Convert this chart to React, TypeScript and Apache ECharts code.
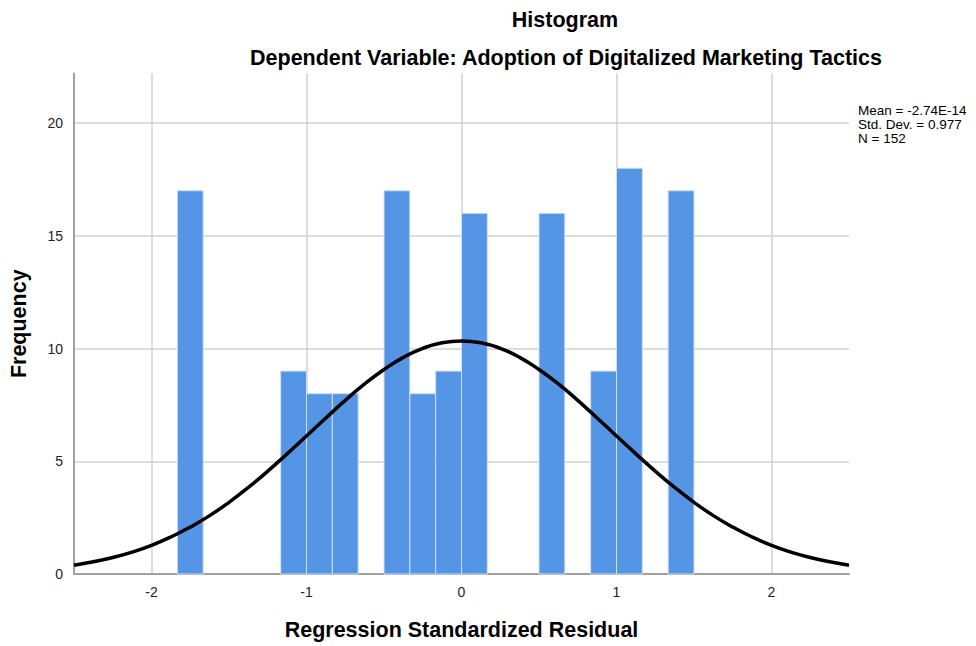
import React, { useEffect, useRef } from "react";
import * as echarts from "echarts";

// Histogram bins: [start, end] in residual units (bin width 1/6), with frequencies
const binStarts = [-11 / 6, -7 / 6, -1, -5 / 6, -3 / 6, -2 / 6, -1 / 6, 0, 3 / 6, 5 / 6, 1, 8 / 6];
const binEnds = [-10 / 6, -1, -5 / 6, -4 / 6, -2 / 6, -1 / 6, 0, 1 / 6, 4 / 6, 1, 7 / 6, 9 / 6];
const frequencies = [17, 9, 8, 8, 17, 8, 9, 16, 16, 9, 18, 17];

// Normal curve points
const curveX = [
  -2.5, -2.375, -2.25, -2.125, -2.0, -1.875, -1.75, -1.625, -1.5, -1.375, -1.25, -1.125, -1.0,
  -0.875, -0.75, -0.625, -0.5, -0.375, -0.25, -0.125, 0, 0.125, 0.25, 0.375, 0.5, 0.625, 0.75,
  0.875, 1.0, 1.125, 1.25, 1.375, 1.5, 1.625, 1.75, 1.875, 2.0, 2.125, 2.25, 2.375, 2.5,
];
const curveY = [
  0.39, 0.54, 0.73, 0.97, 1.27, 1.64, 2.08, 2.59, 3.18, 3.84, 4.56, 5.33, 6.12, 6.92, 7.7, 8.43,
  9.07, 9.61, 10.01, 10.26, 10.34, 10.26, 10.01, 9.61, 9.07, 8.43, 7.7, 6.92, 6.12, 5.33, 4.56,
  3.84, 3.18, 2.59, 2.08, 1.64, 1.27, 0.97, 0.73, 0.54, 0.39,
];

const xTickLabels = ["-2", "-1", "0", "1", "2"];
const yTickLabels = ["0", "5", "10", "15", "20"];
const statsLines = ["Mean = -2.74E-14", "Std. Dev. = 0.977", "N = 152"];

const titleText = "Histogram";
const subtitleText = "Dependent Variable: Adoption of Digitalized Marketing Tactics";
const xName = "Regression Standardized Residual";
const yName = "Frequency";

export default function App() {
  const ref = useRef<HTMLDivElement>(null);
  useEffect(() => {
    if (!ref.current) return;
    const chart = echarts.init(ref.current, null, { renderer: "svg" });
    const font = "Liberation Sans, Arial, sans-serif";
    const barData = frequencies.map((f, i) => [binStarts[i], binEnds[i], f]);
    const lineData = curveX.map((x, i) => [x, curveY[i]]);
    const bigText = { fontSize: 21.5, fontWeight: "bold", color: "#000", fontFamily: font };
    chart.setOption({
      animation: false,
      backgroundColor: "#ffffff",
      textStyle: { fontFamily: font },
      title: [
        { text: titleText, left: 560, top: 4, textAlign: "center", textStyle: bigText },
        { text: subtitleText, left: 561, top: 42, textAlign: "center", textStyle: bigText },
      ],
      grid: { left: 74, right: 127, top: 73.5, bottom: 69, containLabel: false },
      xAxis: {
        type: "value",
        min: -2.5,
        max: 2.5,
        interval: 0.5,
        name: xName,
        nameLocation: "middle",
        nameGap: 45,
        nameTextStyle: bigText,
        axisLine: { show: true, onZero: false, lineStyle: { color: "#a0a0a0", width: 2 } },
        axisTick: { show: false },
        axisLabel: {
          color: "#222",
          fontSize: 14,
          margin: 11,
          showMinLabel: false,
          showMaxLabel: false,
          formatter: (v: number) => {
            const s = String(Math.round(v));
            return Math.abs(v - Math.round(v)) < 1e-6 && xTickLabels.includes(s) ? s : "";
          },
        },
        splitLine: {
          show: true,
          lineStyle: { color: ["rgba(0,0,0,0)", "#d0d0d0"], width: 1.5 },
        },
      },
      yAxis: {
        type: "value",
        min: 0,
        max: 22.2,
        interval: 5,
        name: yName,
        nameLocation: "middle",
        nameGap: 44,
        nameRotate: 90,
        nameTextStyle: bigText,
        axisLine: { show: true, onZero: false, lineStyle: { color: "#a0a0a0", width: 2 } },
        axisTick: { show: false },
        axisLabel: {
          color: "#222",
          fontSize: 14,
          margin: 11,
          showMaxLabel: false,
          formatter: (v: number) => (yTickLabels.includes(String(v)) ? String(v) : ""),
        },
        splitLine: {
          show: true,
          showMinLine: false,
          showMaxLine: false,
          lineStyle: { color: "#d0d0d0", width: 1.5 },
        },
      },
      graphic: statsLines.map((t, i) => ({
        type: "text",
        left: 858,
        top: 103 + i * 14,
        style: { text: t, fontSize: 13.5, lineHeight: 14, fill: "#000", fontFamily: font },
      })),
      series: [
        {
          type: "custom",
          data: barData,
          encode: { x: [0, 1], y: 2 },
          renderItem: (params: any, api: any) => {
            const p0 = api.coord([api.value(0), api.value(2)]);
            const p1 = api.coord([api.value(1), 0]);
            return {
              type: "rect",
              shape: { x: p0[0], y: p0[1], width: p1[0] - p0[0], height: p1[1] - p0[1] },
              style: { fill: "#5595e5", stroke: "#cfe0f7", lineWidth: 1 },
            };
          },
          z: 2,
        },
        {
          type: "line",
          data: lineData,
          smooth: true,
          showSymbol: false,
          symbol: "none",
          lineStyle: { color: "#000", width: 3.5 },
          z: 3,
        },
      ],
    });
    return () => chart.dispose();
  }, []);
  return <div ref={ref} style={{ width: 976, height: 646, position: "absolute", left: 0, top: 0 }} />;
}
